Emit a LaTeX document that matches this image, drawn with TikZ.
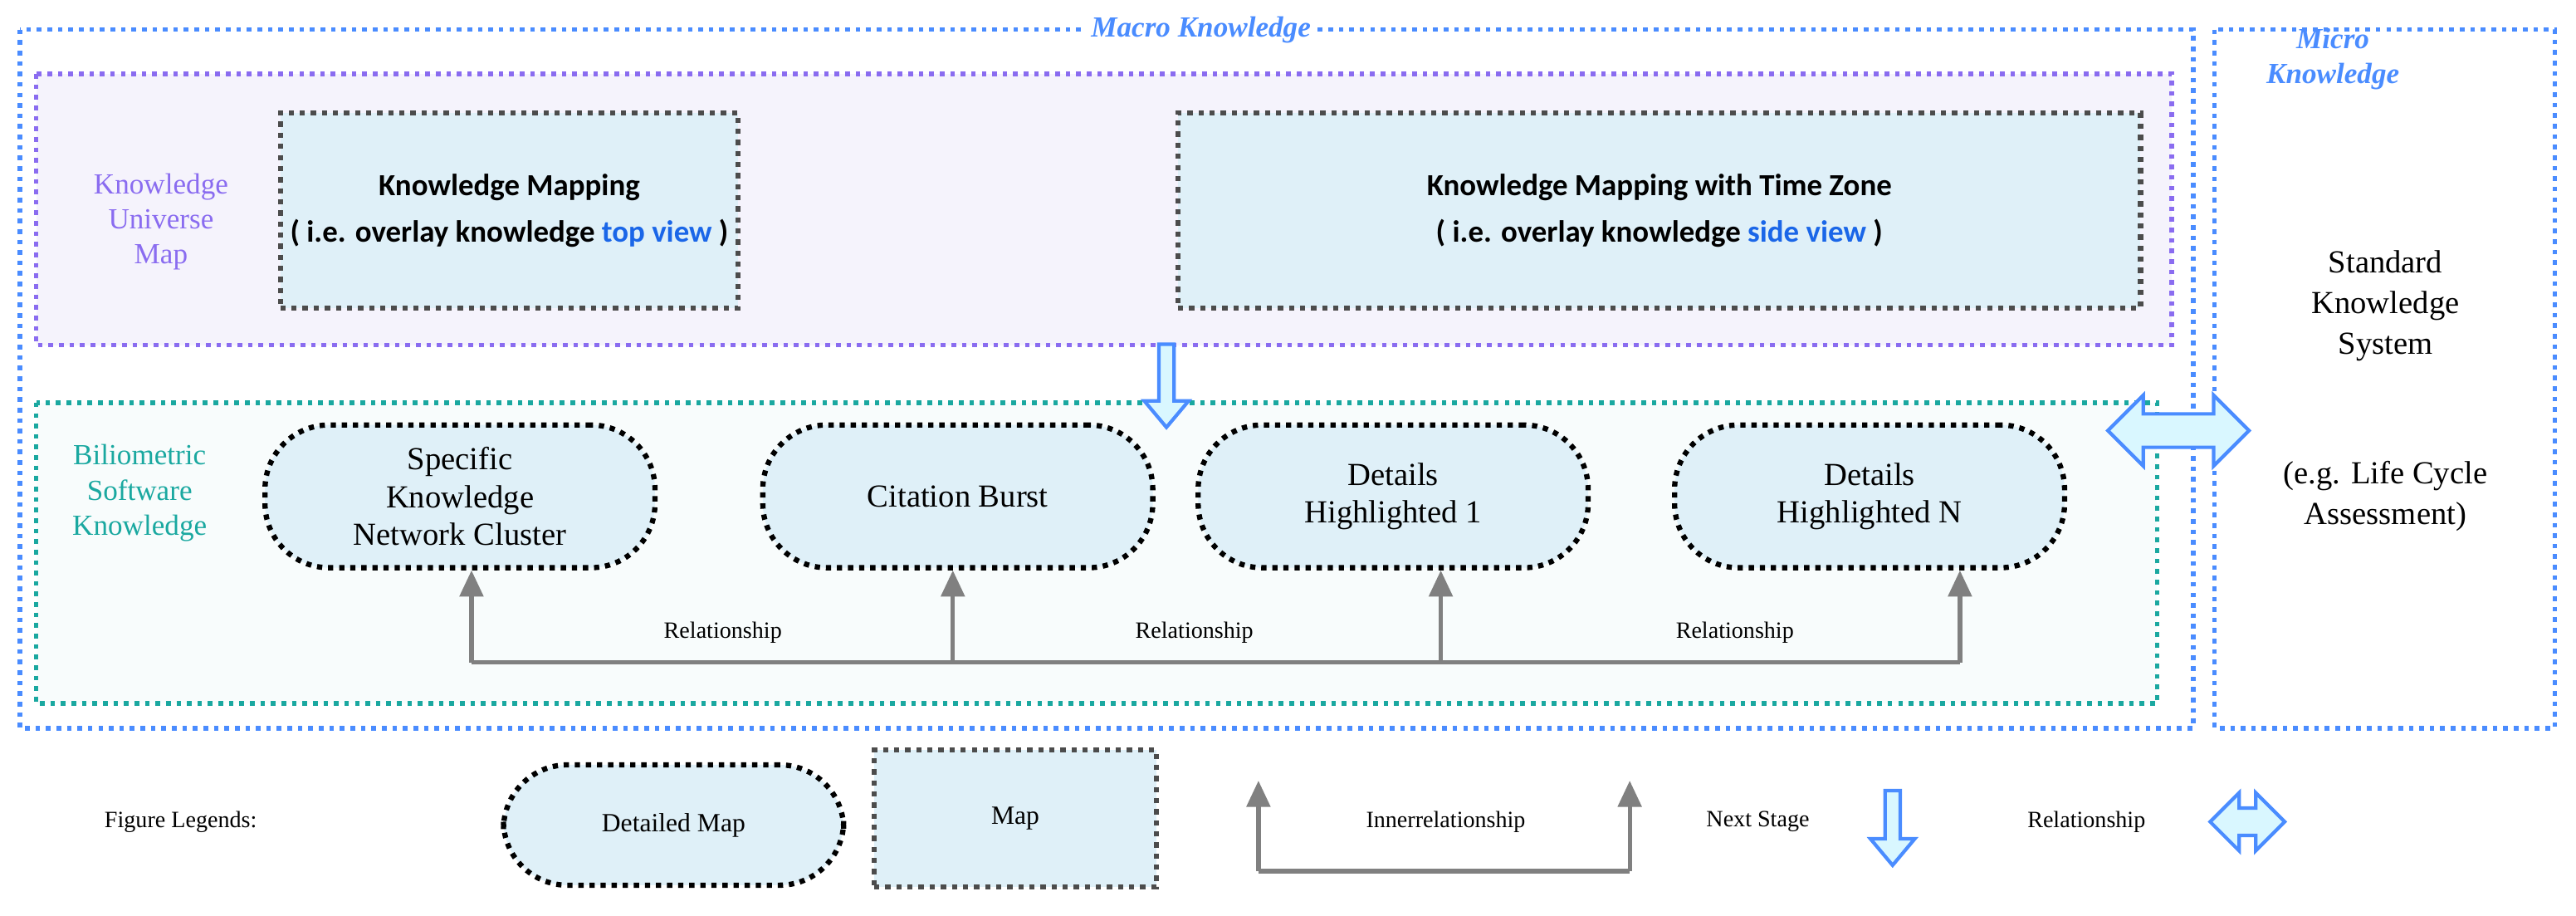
\documentclass[tikz,border=0pt]{standalone}
\usepackage{fontspec}
\setmainfont{Liberation Serif}
\newfontfamily\mapfont{Carlito}
\usetikzlibrary{positioning,shapes.arrows,arrows.meta}
\definecolor{macroblue}{HTML}{4A8CFF}
\definecolor{uvpurple}{HTML}{8A6CF0}
\definecolor{bsteal}{HTML}{1AA8A0}
\definecolor{mapfill}{HTML}{DFF0F8}
\definecolor{lavender}{HTML}{F5F3FC}
\definecolor{linkblue}{HTML}{1A66E8}

\begin{document}
\begin{tikzpicture}[x=0.198mm, y=-0.198mm,
    % Frames
    frame/.style={draw=#1, line width=1.6pt, dotted},
    % Map and detailed-map nodes
    mapbox/.style={draw=black!70, line width=1.8pt, dotted, fill=mapfill, font=\mapfont\bfseries\fontsize{10.5}{16}\selectfont, align=center},
    pill/.style={draw=black, line width=1.8pt, dotted, fill=mapfill, rounded corners=22pt, minimum width=4.7cm, minimum height=1.72cm, font=\fontsize{11}{13}\selectfont, align=center},
    % Arrow styles
    rel/.style={draw=black!50, line width=1.5pt},
    relarrow/.style={rel, -{Triangle[length=9pt,width=8pt]}},
    nextstage/.style={single arrow, shape border rotate=270, draw=macroblue, fill=blue!20!cyan!15, line width=1.2pt, minimum height=#1, single arrow head extend=5pt, single arrow tip angle=80, inner sep=2pt},
    linkage/.style={double arrow, draw=macroblue, fill=blue!20!cyan!15, line width=1.2pt, minimum height=#1, double arrow head extend=4pt, inner sep=3pt},
    % Text styles
    heading/.style={font=\itshape\bfseries\fontsize{10}{12}\selectfont, text=macroblue, fill=white, inner sep=2pt},
    small/.style={font=\fontsize{8}{10}\selectfont}
]
\useasboundingbox (0,0) rectangle (1568,557);

% Outer frames
\draw[frame=macroblue] (12,18) rectangle (1335,443);
\draw[frame=macroblue] (1348,18) rectangle (1555,443);
\node[heading] (macro) at (731,18) {Macro Knowledge};
\node[heading, align=center, fill=none] (micro) at (1420,36) {Micro\\Knowledge};

% Knowledge universe map
\draw[frame=uvpurple, fill=lavender] (22,45) rectangle (1322,210);
\node[font=\fontsize{10}{12}\selectfont, text=uvpurple, align=center] (kum) at (98,135) {Knowledge\\Universe\\Map};
\node[mapbox, minimum width=5.35cm, minimum height=2.35cm] (map1) at (310,128) {Knowledge Mapping\\( i.e. overlay knowledge {\color{linkblue}top view} )};
\node[mapbox, minimum width=11.6cm, minimum height=2.35cm] (map2) at (1010,128) {Knowledge Mapping with Time Zone\\( i.e. overlay knowledge {\color{linkblue}side view} )};

% Biliometric software knowledge
\draw[frame=bsteal, fill=bsteal!3] (22,245) rectangle (1313,428);
\node[font=\fontsize{10}{12}\selectfont, text=bsteal, align=center] (bsk) at (85,300) {Biliometric\\Software\\Knowledge};
\node[pill] (cluster) at (280,302) {Specific\\Knowledge\\Network Cluster};
\node[pill] (burst) at (583,302) {Citation Burst};
\node[pill] (detail1) at (848,302) {Details\\Highlighted 1};
\node[pill] (detailN) at (1138,302) {Details\\Highlighted N};

\node[nextstage=1cm] (down) at (710,232) {};

% Relationships between detailed maps
\coordinate (b1) at (287,403);
\coordinate (b2) at (580,403);
\coordinate (b3) at (877,403);
\coordinate (b4) at (1193,403);
\draw[rel] (b1) -- (b4);
\draw[relarrow] (b1) -- (b1 |- cluster.south);
\draw[relarrow] (b2) -- (b2 |- burst.south);
\draw[relarrow] (b3) -- (b3 |- detail1.south);
\draw[relarrow] (b4) -- (b4 |- detailN.south);
\node[small] (r1) at (440,385) {Relationship};
\node[small] (r2) at (727,385) {Relationship};
\node[small] (r3) at (1056,385) {Relationship};

% Micro knowledge
\node[linkage=1.7cm, minimum width=0.85cm] (link) at (1326,262) {};
\node[font=\fontsize{11}{14}\selectfont, align=center] (sks) at (1452,186) {Standard\\Knowledge\\System};
\node[font=\fontsize{11}{14}\selectfont, align=center] (lca) at (1452,302) {(e.g. Life Cycle\\Assessment)};

% Legend
\node[small] (legend) at (110,500) {Figure Legends:};
\node[pill, minimum width=4.1cm, minimum height=1.45cm, font=\small\selectfont] (lgpill) at (410,502) {Detailed Map};
\node[mapbox, minimum width=3.4cm, minimum height=1.65cm, font=\small\selectfont] (lgmap) at (618,498) {Map};
\coordinate (lga) at (766,530);
\coordinate (lgb) at (992,530);
\draw[rel] (lga) -- (lgb);
\draw[relarrow] (lga) -- ++(0,-55);
\draw[relarrow] (lgb) -- ++(0,-55);
\node[small] (lgrel) at (880,500) {Innerrelationship};
\node[small] (lgnext) at (1070,500) {Next Stage};
\node[nextstage=0.9cm, minimum width=0.4cm] (lgdown) at (1152,501) {};
\node[small] (lgrelation) at (1270,500) {Relationship};
\node[linkage=0.9cm, minimum width=0.7cm] (lglink) at (1368,500) {};
\end{tikzpicture}
\end{document}
